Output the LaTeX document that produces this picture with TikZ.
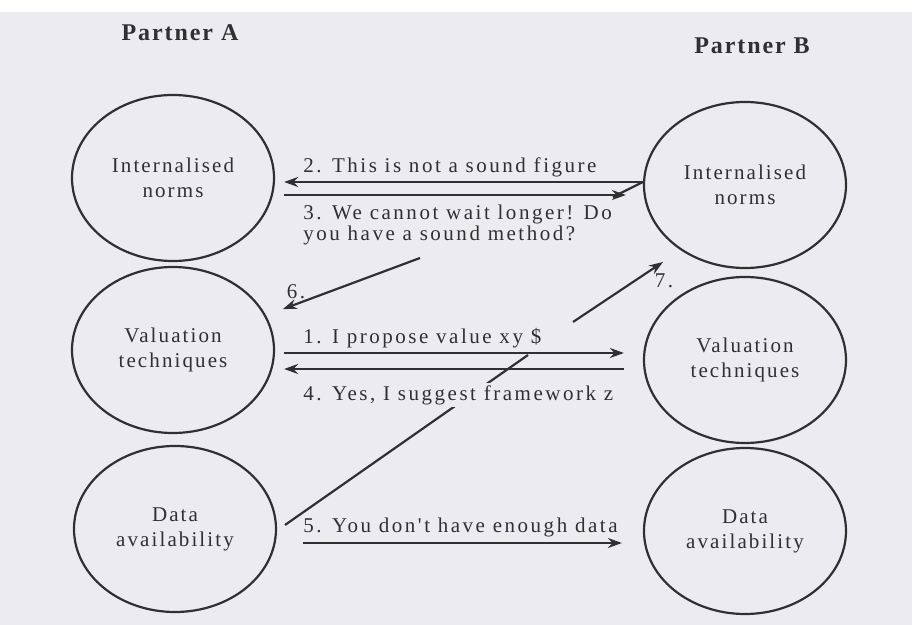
\documentclass[tikz,border=0pt]{standalone}
\usepackage{fontspec}
\setmainfont{Liberation Serif}
\newfontfamily\scanfont[LetterSpace=10]{Liberation Serif}
\newfontfamily\talkfont[LetterSpace=12]{Liberation Serif}
\newfontfamily\headfont[LetterSpace=8]{Liberation Serif}
\usepackage{tikz}
\usetikzlibrary{shapes.geometric,arrows.meta}
\definecolor{paper}{RGB}{236,236,240}
\definecolor{ink}{RGB}{48,48,48}
\tikzset{
  sphere/.style={ellipse,draw=ink,line width=1.1pt,minimum width=101pt,
    minimum height=83pt,inner sep=0pt,align=center,text=ink,
    font=\scanfont\fontsize{10.5}{12.5}\selectfont},
  talk/.style={anchor=west,inner sep=1pt,text=ink,align=left,
    font=\talkfont\fontsize{10.5}{10.5}\selectfont},
  partner/.style={text=ink,font=\headfont\bfseries\fontsize{12}{12}\selectfont},
  msg/.style={draw=ink,line width=1.1pt,-{Stealth[length=7pt,width=5pt]}}
}
\begin{document}
\begin{tikzpicture}[x=0.5pt,y=-0.5pt]
    \fill[white] (0,0) rectangle (912,625);
    \fill[paper] (0,12) rectangle (912,625);
    \useasboundingbox (0,0) rectangle (912,625);

    \node[partner] (partA) at (180,33) {Partner A};
    \node[partner] (partB) at (752,46) {Partner B};

    \node[sphere] (normsA) at (173,178) {Internalised\\norms};
    \node[sphere] (valA) at (173,350) {Valuation\\techniques};
    \node[sphere] (dataA) at (175,529) {Data\\availability};
    \node[sphere] (normsB) at (745,185) {Internalised\\norms};
    \node[sphere] (valB) at (745,360) {Valuation\\techniques};
    \node[sphere] (dataB) at (745,531) {Data\\availability};

    \coordinate (from6) at (420,258);
    \coordinate (from7) at (573,322);
    \coordinate (to7) at (663,262);
    \coordinate (from8) at (528,355);
    \coordinate (to8) at (285,525);

    \draw[ink,line width=1.1pt] (from8) -- (to8);

    \node[talk] (say2) at (301,167) {2. This is not a sound figure};
    \node[talk] (say3) at (301,225) {3. We cannot wait longer! Do\\you have a sound method?};
    \node[talk] (say1) at (301,338) {1. I propose value xy \$};
    \node[talk,fill=paper] (say4) at (301,395) {4. Yes, I suggest framework z};
    \node[talk] (say5) at (301,527) {5. You don't have enough data};
    \node[talk,anchor=center] (say6) at (296,292) {6.};
    \node[talk,anchor=center] (say7) at (664,281) {7.};

    \draw[msg,shorten >=4.5pt] ([yshift=1.5pt]normsB.west)
      -- ([yshift=1.5pt]normsB.west -| normsA.east);
    \draw[ink,line width=1.1pt] ([yshift=1.5pt]normsB.west) -- ++(-30,15);
    \draw[msg,shorten <=4.5pt,shorten >=8.5pt] ([yshift=-8.5pt]normsA.east)
      -- ([yshift=-8.5pt]normsA.east -| normsB.west);
    \draw[msg,shorten <=4.5pt,shorten >=9.5pt] ([yshift=-1.5pt]valA.east)
      -- ([yshift=-1.5pt]valA.east -| valB.west);
    \draw[msg,shorten <=9.5pt,shorten >=4.5pt] ([yshift=-4.5pt]valB.west)
      -- ([yshift=-4.5pt]valB.west -| valA.east);
    \draw[msg,shorten <=13pt,shorten >=10.5pt] ([yshift=-7pt]dataA.east)
      -- ([yshift=-7pt]dataA.east -| dataB.west);
    \draw[msg,shorten >=9pt] (from6) -- (valA);
    \draw[msg] (from7) -- (to7);
\end{tikzpicture}
\end{document}
